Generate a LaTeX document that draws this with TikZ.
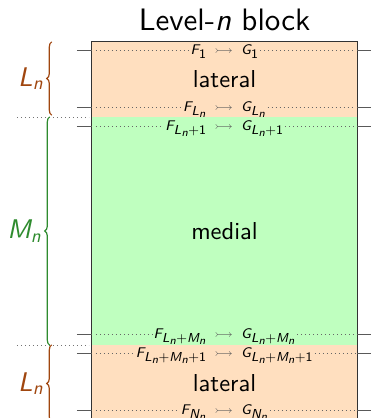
\documentclass[tikz,border=0pt]{standalone}
\usepackage{fontspec}
\setmainfont{lmsans10-regular.otf}[ItalicFont=lmsans10-oblique.otf, BoldFont=lmsans10-bold.otf]
\newfontfamily\lblfont{lmsans8-regular.otf}[ItalicFont=lmsans8-oblique.otf]
\usepackage{amsmath,amssymb,graphicx}
\usetikzlibrary{decorations.pathreplacing}
\DeclareMathSizes{14}{14}{13}{11.5}
\DeclareMathSizes{27}{27}{19}{14}
\newcommand{\vi}[1]{\text{\itshape #1}}
\newcommand{\vu}[1]{\text{#1}}
\newcommand{\arr}{\mathrel{\mkern5mu\textcolor{black!65}{\scalebox{1.2}[1]{$\rightarrowtail$}}\mkern5mu}}
\definecolor{bracebrown}{HTML}{A0460F}
\definecolor{bracegreen}{HTML}{2E8B2E}
\tikzset{
  section/.style={inner sep=0pt, minimum width=265, font=\fontsize{24.5}{28}\selectfont},
  lbl/.style={inner sep=1.5pt, anchor=base, font=\lblfont\fontsize{14}{17}\selectfont},
  dotline/.style={black!60, line width=0.8pt, dash pattern=on 0.8pt off 3.2pt},
  tickline/.style={black!65, line width=1pt},
  sepdot/.style={black!55, line width=0.8pt, dash pattern=on 0.8pt off 3.2pt},
  bracestyle/.style={decorate, decoration={brace, amplitude=5pt}, line width=1.2pt},
  bracelbl/.style={font=\fontsize{27}{31}\selectfont, inner sep=0pt}
}
\begin{document}
\begin{tikzpicture}[x=1pt,y=-1pt]
\useasboundingbox (0,0) rectangle (371,418);
\node[section, fill=orange!25, minimum height=75] (lat1) at (224.5,79.5) {lateral};
\node[section, fill=green!25, minimum height=228] (med) at (224.5,231) {medial};
\node[section, fill=orange!25, minimum height=77] (lat2) at (224.5,383.5) {lateral};
\draw[black!80, line width=0.8pt] (lat1.north west) rectangle (lat2.south east);
\node[font=\fontsize{31}{36}\selectfont, inner sep=0pt] (title) at (224.5,20) {Level-\textit{n} block};
\foreach \k/\yy/\txt in {
  1/50/{$\vi{F}_{\vu{1}}\arr\vi{G}_{\vu{1}}$},
  2/107/{$\vi{F}_{\vi{L}_{\vi{n}}}\arr\vi{G}_{\vi{L}_{\vi{n}}}$},
  3/126/{$\vi{F}_{\vi{L}_{\vi{n}}\vu{+1}}\arr\vi{G}_{\vi{L}_{\vi{n}}\vu{+1}}$},
  4/334/{$\vi{F}_{\vi{L}_{\vi{n}}\vu{+}\vi{M}_{\vi{n}}}\arr\vi{G}_{\vi{L}_{\vi{n}}\vu{+}\vi{M}_{\vi{n}}}$},
  5/353/{$\vi{F}_{\vi{L}_{\vi{n}}\vu{+}\vi{M}_{\vi{n}}\vu{+1}}\arr\vi{G}_{\vi{L}_{\vi{n}}\vu{+}\vi{M}_{\vi{n}}\vu{+1}}$},
  6/410/{$\vi{F}_{\vi{N}_{\vi{n}}}\arr\vi{G}_{\vi{N}_{\vi{n}}}$}} {
  \coordinate (y\k) at (224.5,\yy);
  \node[lbl] (r\k) at ([yshift=-4.5]y\k) {\txt};
  \draw[dotline] ([xshift=4]y\k -| lat1.west) -- (r\k.west |- y\k);
  \draw[dotline] (r\k.east |- y\k) -- ([xshift=-2]y\k -| lat1.east);
  \draw[tickline] ([xshift=-15]y\k -| lat1.west) -- (y\k -| lat1.west);
  \draw[tickline] (y\k -| lat1.east) -- ([xshift=16]y\k -| lat1.east);
}
\draw[sepdot] ([xshift=-75]lat1.south west) -- ([xshift=-3]lat1.south west);
\draw[sepdot] ([xshift=-75]med.south west) -- ([xshift=-3]med.south west);
\draw[bracestyle, bracebrown] ([xshift=-40,yshift=2]lat1.south west) -- ([xshift=-40]lat1.north west)
  node[midway, left=8pt, bracelbl] (Ltop) {$\vi{L}_{\vi{n}}$};
\draw[bracestyle, bracegreen] ([xshift=-42]med.south west) -- ([xshift=-42]med.north west)
  node[midway, left=8pt, bracelbl] (Mlbl) {$\vi{M}_{\vi{n}}$};
\draw[bracestyle, bracebrown] ([xshift=-40]lat2.south west) -- ([xshift=-40]lat2.north west)
  node[midway, left=8pt, bracelbl] (Lbot) {$\vi{L}_{\vi{n}}$};
\end{tikzpicture}
\end{document}
